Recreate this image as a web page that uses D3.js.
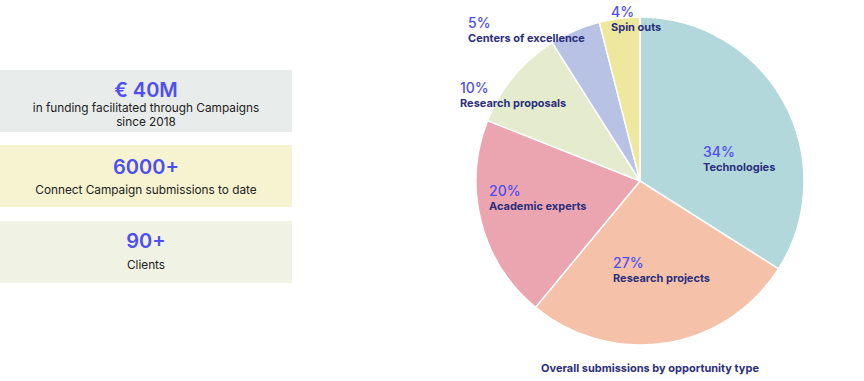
<!DOCTYPE html>
<html><head><meta charset="utf-8">
<script src="https://cdn.jsdelivr.net/npm/d3@7"></script>
<style>body{margin:0;background:#fff;}svg{display:block;font-family:Inter,"Noto Sans",sans-serif;}</style>
</head><body>
<svg id="c" width="864" height="381"></svg>
<script>
const categories = ["Technologies","Research projects","Academic experts","Research proposals","Centers of excellence","Spin outs"];
const shares = [34,27,20,10,5,4];
const colors = ["#b2d8dc","#f5c2a9","#eba5b1","#e5ebcd","#b7c2e4","#eee79e"];
const statValues = ["€ 40M","6000+","90+"];
const statTexts = [["in funding facilitated through Campaigns","since 2018"],["Connect Campaign submissions to date"],["Clients"]];
const statColors = ["#e8ecea","#f6f3d0","#f0f3e3"];
const chartTitle = "Overall submissions by opportunity type";

const svg = d3.select("#c");
const blue = "#4e4ef2", navy = "#2c2f7c";

// stat boxes
const boxY = [70,145,221], boxH = 62;
const valueBase = [27,29,27], textBase = [41.5,49,48];
statValues.forEach((v,i)=>{
  const g = svg.append("g").attr("transform",`translate(0,${boxY[i]})`);
  g.append("rect").attr("width",292).attr("height",boxH).attr("fill",statColors[i]);
  g.append("text").attr("x",146).attr("y",valueBase[i]).attr("text-anchor","middle")
    .attr("font-size",20).attr("font-weight",600).attr("fill",blue).text(v);
  statTexts[i].forEach((t,j)=>{
    g.append("text").attr("x",146).attr("y",textBase[i]+j*14).attr("text-anchor","middle")
      .attr("font-size",11.8).attr("fill","#222").text(t);
  });
});

// pie
const cx=640, cy=181, r=164;
const pie = d3.pie().sort(null).value(d=>d)(shares);
const arc = d3.arc().innerRadius(0).outerRadius(r);
const pg = svg.append("g").attr("transform",`translate(${cx},${cy})`);
pg.selectAll("path").data(pie).join("path").attr("d",arc)
  .attr("fill",(d,i)=>colors[i]).attr("stroke","#fff").attr("stroke-width",1.5);

// labels: positions relative to center
const labelPos = [[63,-24],[-27,87],[-151,15],[-180,-88],[-172,-153],[-29,-164]];
pie.forEach((d,i)=>{
  const [lx,ly] = labelPos[i];
  const g = svg.append("g").attr("transform",`translate(${cx+lx},${cy+ly})`);
  g.append("text").attr("y",0).attr("font-size",14).attr("font-weight",500).attr("fill",blue).text(shares[i]+"%");
  g.append("text").attr("y",13.5).attr("font-size",11).attr("font-weight",700).attr("fill",navy).text(categories[i]);
});

svg.append("text").attr("x",650).attr("y",372).attr("text-anchor","middle")
  .attr("font-size",11).attr("font-weight",700).attr("fill",navy).text(chartTitle);
</script>
</body></html>
